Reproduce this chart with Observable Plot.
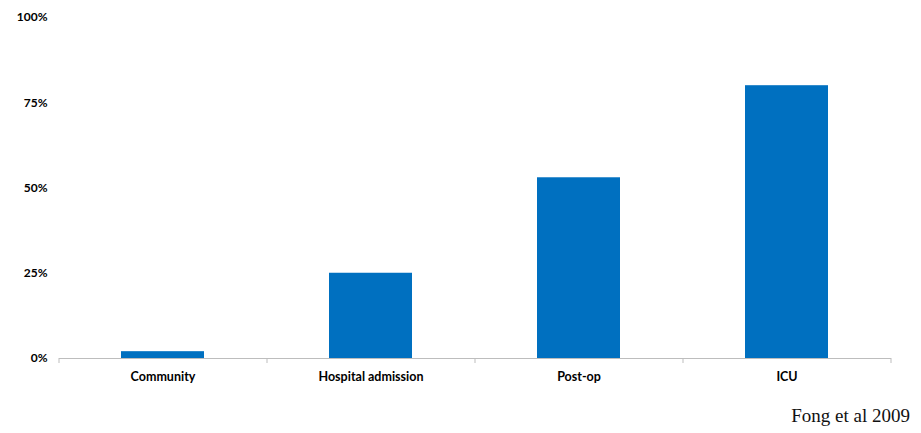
<!DOCTYPE html>
<html>
<head>
<meta charset="utf-8">
<script src="https://cdn.jsdelivr.net/npm/d3@7"></script>
<script src="https://cdn.jsdelivr.net/npm/@observablehq/plot@0.6"></script>
<style>
  html, body { margin: 0; padding: 0; background: #fff; }
  #wrap { position: relative; width: 921px; height: 433px; }
  #caption { position: absolute; right: 11px; top: 405px; font-family: "Liberation Serif", "Times New Roman", serif; font-size: 19px; color: #111; }
</style>
</head>
<body>
<div id="wrap"><div id="chart"></div><div id="caption">Fong et al 2009</div></div>
<script>
const categories = ["Community", "Hospital admission", "Post-op", "ICU"];
const values = [0.02, 0.25, 0.53, 0.80];
const yTicks = [0, 0.25, 0.5, 0.75, 1];

const data = categories.map((c, i) => ({category: c, value: values[i]}));
const W = 921, H = 395, ML = 59, MR = 30;
const half = (W - ML - MR) / categories.length / 2;
const font = "Lato, 'Open Sans', sans-serif";

const chart = Plot.plot({
  width: W,
  height: H,
  marginTop: 17,
  marginBottom: 37,
  marginLeft: ML,
  marginRight: MR,
  style: {fontFamily: font, background: "#fff"},
  x: {domain: categories, paddingInner: 0.6, paddingOuter: 0.3, label: null},
  y: {domain: [0, 1], label: null},
  marks: [
    Plot.barY(data, {x: "category", y: "value", fill: "#0070c0"}),
    Plot.ruleY([0], {stroke: "#bdbdbd", strokeWidth: 1}),
    Plot.axisX({ticks: categories, tickSize: 5, text: null, dx: -half, stroke: "#bdbdbd"}),
    Plot.axisX(categories.slice(-1), {tickSize: 5, text: null, dx: half, stroke: "#bdbdbd"}),
    Plot.axisX({tickSize: 0, tickPadding: 14, fontSize: 12.5, fontWeight: "bold", fill: "#000"}),
    Plot.axisY({ticks: yTicks, tickSize: 0, tickPadding: 12, tickFormat: d3.format(".0%"), fontSize: 12, fontWeight: "bold", fill: "#000"})
  ]
});
document.getElementById("chart").appendChild(chart);
</script>
</body>
</html>
